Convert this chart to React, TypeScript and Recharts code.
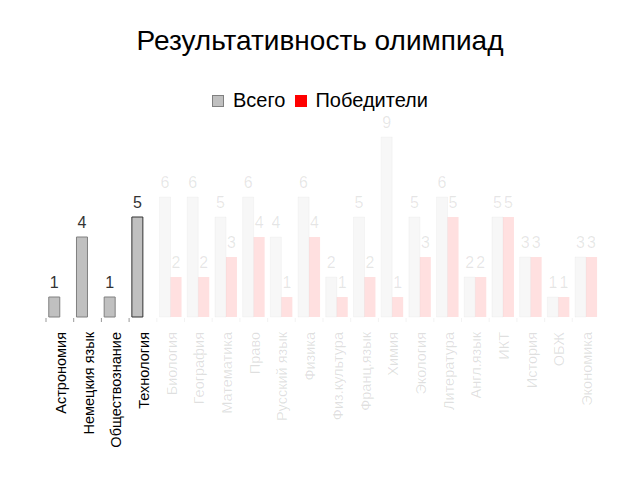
import React from 'react';
import { BarChart, Bar, XAxis, YAxis, Cell } from 'recharts';

// olympiad results per subject
const categories = [
  'Астрономия', 'Немецкия язык', 'Обществознание', 'Технология', 'Биология',
  'География', 'Математика', 'Право', 'Русский язык', 'Физика',
  'Физ.культура', 'Франц.язык', 'Химия', 'Экология', 'Литература',
  'Англ.язык', 'ИКТ', 'История', 'ОБЖ', 'Экономика',
];
const totalValues = [1, 4, 1, 5, 6, 6, 5, 6, 4, 6, 2, 5, 9, 5, 6, 2, 5, 3, 1, 3];
const winnerValues = [null, null, null, null, 2, 2, 3, 4, 1, 4, 1, 2, 1, 3, 5, 2, 5, 3, 1, 3];
// only the first few subjects are shown at full strength, the rest are faded
const activeCount = 4;

const data = categories.map((name, i) => ({
  name,
  total: totalValues[i],
  winners: winnerValues[i],
}));

const FADE = 0.12;
const W = 640;
const H = 480;
const LEFT = 46;
const RIGHT = 40;
const band = (W - LEFT - RIGHT) / categories.length;

const opacityAt = (i: number) => (i < activeCount ? 1 : FADE);
// category index from a bar's x position (label index skips empty values)
const indexAtX = (x: number) => Math.floor((x - LEFT) / band);

const renderLabel = (props: any) => {
  const { x, y, width, value } = props;
  if (value == null) return null;
  const i = indexAtX(x + width / 2);
  return (
    <text
      x={x + width / 2}
      y={y - 9}
      textAnchor="middle"
      fontSize={16}
      fill="#333"
      fillOpacity={opacityAt(i)}
    >
      {value}
    </text>
  );
};

const CategoryTick = (props: any) => {
  const { x, y, payload, index } = props;
  return (
    <g>
      <line x1={x - band / 2} y1={y - 7} x2={x - band / 2} y2={y - 3} stroke="#999" strokeOpacity={opacityAt(index)} />
      <text
        transform={`translate(${x + 1},${y + 7}) rotate(-90)`}
        textAnchor="end"
        dominantBaseline="central"
        fontSize={14.5}
        fill="#000"
        fillOpacity={opacityAt(index)}
      >
        {payload.value}
      </text>
    </g>
  );
};

const App = () => {
  return (
    <div style={{ position: 'absolute', left: 0, top: 0, width: W, height: H, background: '#fff', fontFamily: '"Liberation Sans", Arial, sans-serif' }}>
      <div style={{ position: 'absolute', top: 25, width: W, textAlign: 'center', fontSize: 28, color: '#000' }}>
        Результативность олимпиад
      </div>
      <div style={{ position: 'absolute', top: 88, width: W, textAlign: 'center', fontSize: 20, color: '#000' }}>
        <span style={{ display: 'inline-block', width: 10, height: 10, background: '#c0c0c0', border: '1px solid #808080', marginRight: 9, verticalAlign: 'middle' }} />
        <span style={{ verticalAlign: 'middle' }}>Всего</span>
        <span style={{ display: 'inline-block', width: 12, height: 12, background: '#ff0000', marginLeft: 10, marginRight: 8, verticalAlign: 'middle' }} />
        <span style={{ verticalAlign: 'middle' }}>Победители</span>
      </div>
      <div style={{ position: 'absolute', left: 0, top: 0 }}>
        <BarChart
          width={W}
          height={H}
          data={data}
          margin={{ top: 137, right: RIGHT, left: LEFT, bottom: 0 }}
          barCategoryGap="10%"
          barGap={0}
        >
          <XAxis
            dataKey="name"
            interval={0}
            axisLine={false}
            tickLine={false}
            tick={<CategoryTick />}
            height={163}
          />
          <YAxis hide domain={[0, 9]} />
          <Bar dataKey="total" fill="#c0c0c0" stroke="#808080" strokeWidth={1} isAnimationActive={false} label={renderLabel}>
            {data.map((d, i) => (
              <Cell key={d.name} fillOpacity={opacityAt(i)} strokeOpacity={i < activeCount ? 1 : 0.06} stroke={i === 3 ? '#333' : '#808080'} />
            ))}
          </Bar>
          <Bar dataKey="winners" fill="#ff0000" isAnimationActive={false} label={renderLabel}>
            {data.map((d, i) => (
              <Cell key={d.name} fillOpacity={opacityAt(i)} />
            ))}
          </Bar>
        </BarChart>
      </div>
    </div>
  );
};

export default App;
